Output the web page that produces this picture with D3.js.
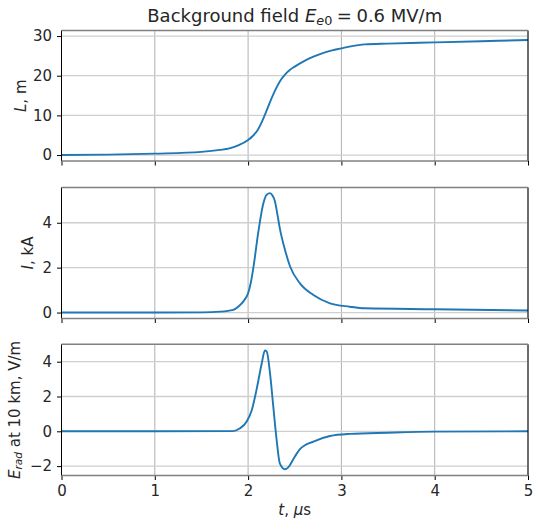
<!DOCTYPE html>
<html><head><meta charset="utf-8">
<script src="https://cdn.jsdelivr.net/npm/d3@7"></script>
<style>body{margin:0;background:#fff}svg{display:block}text{font-family:"DejaVu Sans",sans-serif;fill:#262626}</style>
</head><body><svg id="c" width="533" height="519"></svg>
<script>
// ---- data ----
const lengthT = [0,0.5,1.0,1.5,1.7,1.8,1.9,2.0,2.05,2.1,2.15,2.2,2.25,2.3,2.35,2.4,2.45,2.5,2.6,2.7,2.8,2.9,3.0,3.1,3.25,3.5,4.0,4.5,5.0];
const lengthL = [0,0.1,0.35,0.8,1.3,1.7,2.5,3.8,4.8,6.2,8.5,11.3,14.2,16.8,18.9,20.4,21.5,22.3,23.7,24.8,25.7,26.4,26.9,27.4,27.9,28.1,28.4,28.7,29.0];
const currentT = [0,1.0,1.5,1.7,1.84,1.9,1.95,2.0,2.03,2.06,2.11,2.16,2.2,2.235,2.26,2.288,2.315,2.34,2.395,2.45,2.556,2.7,2.878,3.09,3.25,4.0,5.0];
const currentI = [0,0.0,0.01,0.04,0.12,0.28,0.5,0.86,1.35,2.1,3.6,4.8,5.25,5.32,5.22,4.95,4.35,3.75,2.8,2.05,1.3,0.78,0.41,0.26,0.19,0.15,0.09];
const fieldT = [0,1.0,1.84,1.913,1.985,2.04,2.09,2.146,2.18,2.2,2.235,2.27,2.306,2.34,2.395,2.43,2.5,2.556,2.7,2.878,3.09,3.5,4.0,5.0];
const fieldE = [0,0,0.01,0.17,0.56,1.23,2.38,3.9,4.64,4.58,3.33,1.42,-0.5,-1.84,-2.18,-2.07,-1.46,-1.03,-0.59,-0.27,-0.15,-0.08,-0.02,0];
const xTicks = [0,1,2,3,4,5];
const lTicks = [0,10,20,30];
const iTicks = [0,2,4];
const eTicks = [-2,0,2,4];

const svg = d3.select("#c");
const L = 61.5, R = 528;
const x = d3.scaleLinear().domain([0,5]).range([L,R]);
const fs = 15;

const panels = [
  {top:30.5, bottom:161, dom:[-1.5,31.4], ticks:lTicks, t:lengthT, v:lengthL, labelX:20.5},
  {top:187.5, bottom:318.5, dom:[-0.265,5.57], ticks:iTicks, t:currentT, v:currentI, labelX:28},
  {top:344.3, bottom:475.5, dom:[-2.54,5.0], ticks:eTicks, t:fieldT, v:fieldE, labelX:14.5}
];

panels.forEach((p,pi)=>{
  const y = d3.scaleLinear().domain(p.dom).range([p.bottom,p.top]);
  const g = svg.append("g");
  // grid
  g.selectAll(".vg").data(xTicks).join("line")
    .attr("x1",d=>x(d)).attr("x2",d=>x(d)).attr("y1",p.top).attr("y2",p.bottom)
    .attr("stroke","#b0b0b0").attr("stroke-width",1);
  g.selectAll(".hg").data(p.ticks).join("line")
    .attr("x1",L).attr("x2",R).attr("y1",d=>y(d)).attr("y2",d=>y(d))
    .attr("stroke","#cfcfcf").attr("stroke-width",1.3);
  // line
  const pts = p.t.map((t,i)=>[t,p.v[i]]);
  g.append("path").datum(pts)
    .attr("d",d3.line().x(d=>x(d[0])).y(d=>y(d[1])).curve(d3.curveMonotoneX))
    .attr("fill","none").attr("stroke","#1f77b4").attr("stroke-width",1.9).attr("stroke-linejoin","round");
  // y axis
  const ya = d3.axisLeft(y).tickValues(p.ticks).tickSize(4.5).tickPadding(5)
    .tickFormat(d=>d<0?"\u2212"+Math.abs(d):String(d));
  const yg = g.append("g").attr("transform",`translate(${L},0)`).call(ya);
  yg.select(".domain").remove();
  yg.selectAll("text").attr("font-size",fs).attr("font-family","DejaVu Sans").attr("fill","#262626");
  yg.selectAll("line").attr("stroke","#000").attr("stroke-width",1);
  // x axis ticks
  const xa = d3.axisBottom(x).tickValues(xTicks).tickSize(4.5).tickPadding(5).tickFormat(pi===2?d3.format("d"):"");
  const xg = g.append("g").attr("transform",`translate(0,${p.bottom})`).call(xa);
  xg.select(".domain").remove();
  xg.selectAll("text").attr("font-size",fs).attr("font-family","DejaVu Sans").attr("fill","#262626");
  xg.selectAll("line").attr("stroke","#000").attr("stroke-width",1);
  // spines
  g.append("line").attr("x1",L).attr("x2",L).attr("y1",p.top).attr("y2",p.bottom).attr("stroke","#000").attr("stroke-width",1);
  g.append("line").attr("x1",R).attr("x2",R).attr("y1",p.top).attr("y2",p.bottom).attr("stroke","#000").attr("stroke-width",1);
  g.append("line").attr("x1",L).attr("x2",R).attr("y1",p.top).attr("y2",p.top).attr("stroke","#808080").attr("stroke-width",1.6);
  g.append("line").attr("x1",L).attr("x2",R).attr("y1",p.bottom).attr("y2",p.bottom).attr("stroke","#808080").attr("stroke-width",1.6);
  // y label
  const cy = (p.top+p.bottom)/2;
  const tl = svg.append("text").attr("transform",`translate(${p.labelX},${cy}) rotate(-90)`)
    .attr("text-anchor","middle").attr("dominant-baseline","central").attr("font-size",fs);
  if (pi===0) {
    tl.append("tspan").attr("font-style","italic").text("L");
    tl.append("tspan").text(", m");
  } else if (pi===1) {
    tl.append("tspan").attr("font-style","italic").text("I");
    tl.append("tspan").text(", kA");
  } else {
    tl.append("tspan").attr("font-style","italic").text("E");
    tl.append("tspan").attr("font-style","italic").attr("font-size",fs*0.7).attr("dy",3).text("rad");
    tl.append("tspan").attr("dy",-3).text(" at 10 km, V/m");
  }
});

// x label
const xl = svg.append("text").attr("x",(L+R)/2).attr("y",515).attr("text-anchor","middle").attr("font-size",fs);
xl.append("tspan").attr("font-style","italic").text("t");
xl.append("tspan").text(", ");
xl.append("tspan").attr("font-style","italic").text("\u03bc");
xl.append("tspan").text("s");

// title
const tt = svg.append("text").attr("x",(L+R)/2).attr("y",21.5).attr("text-anchor","middle").attr("font-size",18);
tt.append("tspan").text("Background field ");
tt.append("tspan").attr("font-style","italic").text("E");
tt.append("tspan").attr("font-style","italic").attr("font-size",12.8).attr("dy",3.5).text("e");
tt.append("tspan").attr("font-size",12.8).text("0");
tt.append("tspan").attr("dy",-3.5).text("\u2005=\u20050.6 MV/m");
</script></body></html>
